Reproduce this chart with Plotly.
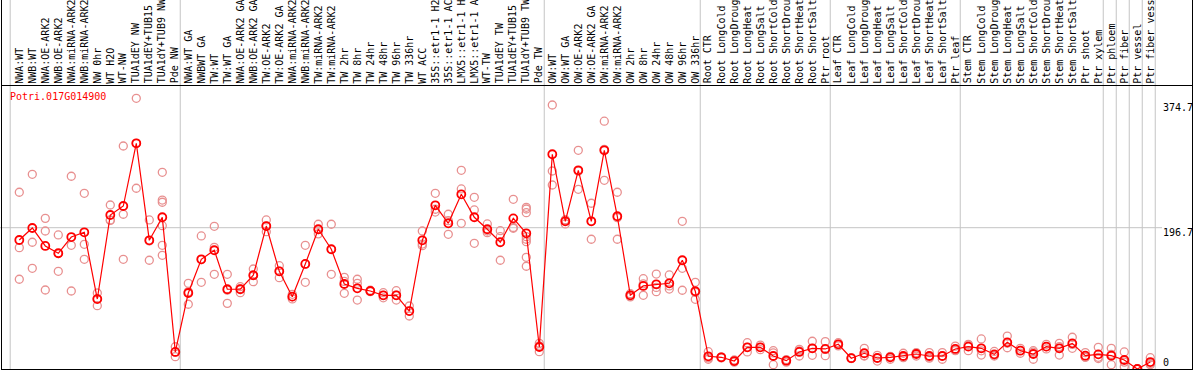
import plotly.graph_objects as go

gene = "Potri.017G014900"

categories = [
    "NWA:WT", "NWB:WT", "NWA:OE-ARK2", "NWB:OE-ARK2", "NWA:miRNA-ARK2", "NWB:miRNA-ARK2",
    "NW 0hr", "WT H2O", "WT-NW", "TUA1dEY NW", "TUA1dEY+TUB15 NW", "TUA1dY+TUB9 NW", "Pde NW",
    "NWA:WT GA", "NWBWT GA", "TW:WT", "TW:WT GA", "NWA:OE-ARK2 GA", "NWB:OE-ARK2 GA",
    "TW:OE-ARK2", "TW:OE-ARK2 GA", "NWA:miRNA-ARK2 GA", "NWB:miRNA-ARK2 GA", "TW:miRNA-ARK2",
    "TW:miRNA-ARK2 GA", "TW 2hr", "TW 8hr", "TW 24hr", "TW 48hr", "TW 96hr", "TW 336hr",
    "WT ACC", "35S::etr1-1 H2O", "35S::etr1-1 ACC", "LMX5::etr1-1 H2O", "LMX5::etr1-1 ACC",
    "WT-TW", "TUA1dEY TW", "TUA1dEY+TUB15 TW", "TUA1dY+TUB9 TW", "Pde TW",
    "OW:WT", "OW:WT GA", "OW:OE-ARK2", "OW:OE-ARK2 GA", "OW:miRNA-ARK2", "OW:miRNA-ARK2 GA",
    "OW 2hr", "OW 8hr", "OW 24hr", "OW 48hr", "OW 96hr", "OW 336hr",
    "Root CTR", "Root LongCold", "Root LongDrought", "Root LongHeat", "Root LongSalt",
    "Root ShortCold", "Root ShortDrought", "Root ShortHeat", "Root ShortSalt", "Ptr root",
    "Leaf CTR", "Leaf LongCold", "Leaf LongDrought", "Leaf LongHeat", "Leaf LongSalt",
    "Leaf ShortCold", "Leaf ShortDrought", "Leaf ShortHeat", "Leaf ShortSalt", "Ptr leaf",
    "Stem CTR", "Stem LongCold", "Stem LongDrought", "Stem LongHeat", "Stem LongSalt",
    "Stem ShortCold", "Stem ShortDrought", "Stem ShortHeat", "Stem ShortSalt", "Ptr shoot",
    "Ptr xylem", "Ptr phloem", "Ptr fiber", "Ptr vessel", "Ptr fiber vessel",
]

means = [
    179.6, 196.3, 171.3, 161.1, 183.7, 190.3, 97.4, 214.4, 226.9, 314.2, 179.1, 211.2, 23.7,
    105.8, 152.7, 165.3, 111.0, 111.0, 130.5, 199.0, 136.0, 100.7, 146.2, 194.5, 166.7,
    118.3, 112.3, 108.6, 102.6, 102.6, 80.7, 179.1, 227.9, 202.8, 243.2, 211.2, 194.5,
    176.4, 209.7, 188.9, 30.6,
    298.9, 205.6, 276.6, 205.6, 304.4, 212.6, 102.6, 115.6, 117.9, 119.3, 151.4, 108.2,
    17.7, 16.3, 11.1, 30.2, 30.2, 18.1, 11.6, 23.7, 28.8, 27.9,
    34.4, 15.0, 21.9, 15.3, 16.3, 18.1, 20.9, 18.1, 18.1, 27.9,
    31.1, 28.8, 20.4, 37.1, 25.5, 20.9, 31.1, 28.8, 35.7, 18.5,
    20.4, 18.5, 12.5, 0.0, 9.7,
]

replicates = [
    [246.0, 168.9, 124.9], [271.0, 176.4, 140.2], [209.7, 192.1, 110.0], [186.6, 160.7, 136.0],
    [268.3, 172.2, 108.6], [244.6, 173.6, 152.7], [105.8, 97.9, 88.1], [228.3, 207.5, 206.8],
    [310.4, 215.4, 152.7], [376.8, 314.1, 251.6], [207.5, 178.3, 151.4],
    [273.8, 235.2, 232.1, 199.5, 172.2, 158.3], [31.0, 23.4, 17.1],
    [119.3, 107.7, 90.1], [185.2, 152.3, 120.7], [198.6, 169.4, 131.8], [131.8, 109.7, 91.4],
    [114.6, 111.6, 106.2], [139.2, 130.3, 121.5], [207.5, 198.9, 191.1], [143.8, 136.2, 127.1],
    [104.0, 100.5, 97.5], [172.2, 146.0, 120.7], [201.5, 194.0, 188.1], [201.5, 166.6, 131.8],
    [127.6, 121.9, 105.4], [124.9, 119.3, 96.0], [109.6, 108.7, 107.7], [106.2, 102.6, 99.1],
    [109.0, 102.8, 96.0], [87.7, 80.7, 73.8], [192.1, 173.9, 171.7], [244.6, 222.4, 218.5],
    [215.4, 206.5, 187.5], [276.6, 250.6, 202.8], [239.0, 221.4, 175.0], [201.9, 192.1, 189.7],
    [192.5, 184.2, 151.4], [236.2, 197.0, 195.9],
    [225.1, 222.7, 217.6, 184.2, 180.6, 177.2, 155.5, 143.0], [35.7, 32.2, 24.1],
    [367.5, 275.6, 256.1], [207.8, 206.8, 201.9], [304.4, 275.4, 250.1], [230.7, 205.8, 180.6],
    [344.9, 305.8, 262.7], [246.0, 210.7, 180.6], [104.8, 102.8, 100.4], [125.7, 118.5, 102.6],
    [132.2, 113.6, 107.6], [130.9, 115.6, 111.3], [205.6, 140.2, 109.6], [120.7, 106.7, 97.0],
    [24.1, 15.5, 13.5], [16.5, 16.5, 15.5], [12.5, 11.1, 9.6], [36.6, 30.2, 23.7],
    [33.2, 30.2, 26.9], [25.5, 22.4, 6.0], [13.1, 12.1, 9.6], [27.3, 25.3, 18.1],
    [38.6, 28.8, 19.1], [38.1, 27.3, 18.5],
    [36.6, 34.2, 32.2], [15.5, 15.0, 14.5], [28.8, 18.5, 18.1], [19.0, 15.5, 11.1],
    [17.5, 17.2, 13.6], [21.9, 16.5, 15.8], [22.8, 21.9, 18.1], [22.8, 16.5, 15.0],
    [22.8, 18.1, 13.6], [31.8, 26.3, 25.5],
    [34.4, 33.2, 25.5], [41.8, 25.3, 19.4], [24.4, 19.4, 18.1], [45.9, 35.8, 29.6],
    [28.8, 25.9, 21.9], [25.5, 23.4, 13.6], [34.4, 31.2, 27.9], [35.7, 31.2, 19.4],
    [44.2, 34.2, 28.8], [22.8, 16.5, 16.3],
    [30.2, 16.3, 14.5], [28.8, 20.4, 6.0], [23.7, 9.6, 3.3], [0.0, 0.0, 0.0], [15.7, 7.7, 6.0],
]

# group separators (placed after these category indices)
group_ends = [-1, 12, 40, 52, 62, 72, 83, 84, 85, 86, 87]
tick_values = [0, 196.7, 374.7]
tick_labels = ["0", "196.7", "374.7"]

W, H = 1194, 370
PL, PR, PT, PB = 2, 1192, 86, 369
step, x0px = 13.0, 19.3
xr = [(PL - x0px) / step, (PR - x0px) / step]
yr = [0, (PB - PT) / 0.7184]


def py(p):
    return (PB - p) / (PB - PT)


def px(p):
    return (p - PL) / (PR - PL)


xs = list(range(len(categories)))
rx, ry = [], []
for i, reps in enumerate(replicates):
    for v in reps:
        rx.append(i)
        ry.append(v)

mono = "DejaVu Sans Mono"
fig = go.Figure()
fig.add_trace(go.Scatter(
    x=rx, y=ry, mode="markers", hoverinfo="skip",
    marker=dict(symbol="circle-open", size=8, color="#e89090", line=dict(width=1.3, color="#e89090")),
))
fig.add_trace(go.Scatter(
    x=xs, y=means, mode="lines+markers",
    line=dict(color="#ff0000", width=1.2),
    marker=dict(symbol="circle-open", size=8, color="#ff0000", line=dict(width=1.8, color="#ff0000")),
))

shapes = []
for g in group_ends:
    xv = g + 0.38 if g >= 0 else -0.7
    shapes.append(dict(type="line", xref="x", yref="paper", x0=xv, x1=xv, y0=0, y1=py(0) + 0.01,
                       line=dict(color="#c4c4c4", width=1), layer="below"))
shapes.append(dict(type="line", xref="paper", yref="y", x0=-0.01, x1=px(1162), y0=tick_values[1], y1=tick_values[1],
                   line=dict(color="#c4c4c4", width=1), layer="below"))
# outer borders
shapes.append(dict(type="line", xref="paper", yref="paper", x0=px(1.5), x1=px(1.5), y0=0, y1=py(0) + 0.01,
                   line=dict(color="black", width=1)))
shapes.append(dict(type="line", xref="paper", yref="paper", x0=px(1192.5), x1=px(1192.5), y0=0, y1=py(0) + 0.01,
                   line=dict(color="black", width=1)))

annotations = []
for i, c in enumerate(categories):
    annotations.append(dict(x=i, y=py(84.5), xref="x", yref="paper", text=c, textangle=-90,
                            showarrow=False, xanchor="center", yanchor="bottom", borderpad=0,
                            font=dict(family=mono, size=10, color="black")))
tick_py = {"0": 362.7, "196.7": 232.7, "374.7": 107.3}
for lab in tick_labels:
    annotations.append(dict(x=px(1162), y=py(tick_py[lab]), xref="paper", yref="paper", text=lab,
                            showarrow=False, xanchor="left", yanchor="middle", borderpad=0,
                            font=dict(family=mono, size=10, color="black")))
annotations.append(dict(x=px(8.5), y=py(96.7), xref="paper", yref="paper", text=gene,
                        showarrow=False, xanchor="left", yanchor="middle", borderpad=0,
                        font=dict(family=mono, size=10, color="#ff0000")))

fig.update_layout(
    width=W, height=H, margin=dict(l=PL, r=W - PR, t=PT, b=H - PB),
    paper_bgcolor="white", plot_bgcolor="white", showlegend=False,
    shapes=shapes, annotations=annotations,
    xaxis=dict(range=xr, showgrid=False, zeroline=False, showticklabels=False, ticks="",
               showline=True, mirror=True, linecolor="black", linewidth=1),
    yaxis=dict(range=yr, showgrid=False, zeroline=False, showticklabels=False, ticks="",
               showline=True, mirror=True, linecolor="black", linewidth=1),
)
fig.write_html(
    "out.html",
    config={"displayModeBar": False},
    post_script="document.body.style.margin='0';document.body.style.overflow='hidden';",
)
